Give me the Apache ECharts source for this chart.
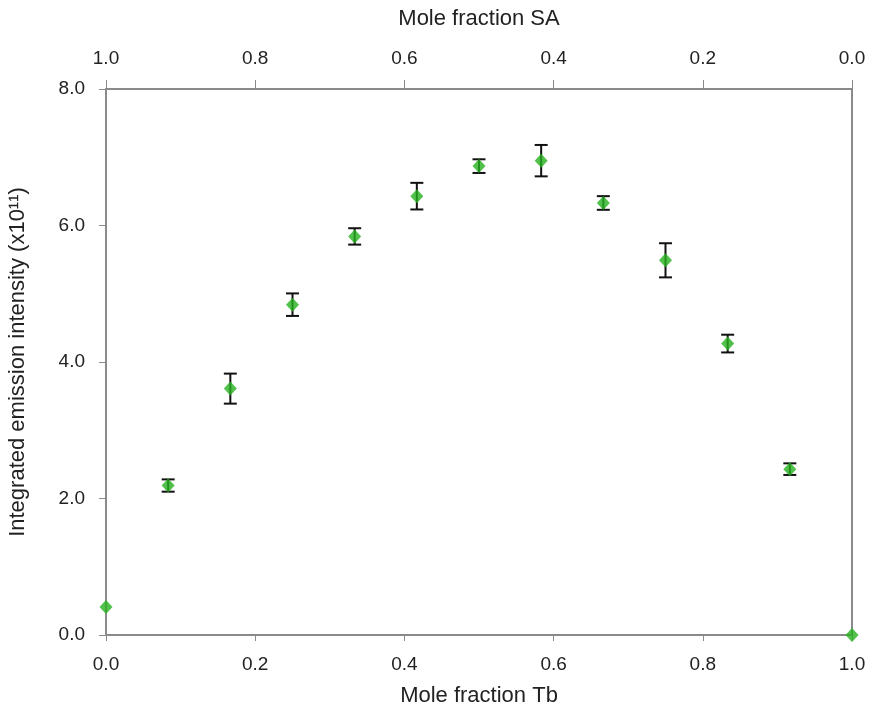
<!DOCTYPE html>
<html lang="en">

<head>
  <meta charset="UTF-8">
  <title>Emission intensity vs mole fraction</title>
  <script src="https://cdn.jsdelivr.net/npm/echarts@6/dist/echarts.min.js"></script>
</head>

<body style="margin:0;background:#fff;">
  <div id="chart" style="width: 870px; height: 711px;"></div>
  <script>
    // mole fraction Tb (steps of 1/12)
    const moleTb = [0, 1 / 12, 2 / 12, 3 / 12, 4 / 12, 5 / 12, 6 / 12, 7 / 12, 8 / 12, 9 / 12, 10 / 12, 11 / 12, 1]
    // integrated emission intensity (x10^11)
    const intensity = [0.41, 2.19, 3.61, 4.84, 5.84, 6.43, 6.87, 6.95, 6.33, 5.49, 4.27, 2.43, 0.0]
    // +/- error
    const errors = [0, 0.09, 0.22, 0.165, 0.12, 0.195, 0.1, 0.23, 0.1, 0.25, 0.13, 0.085, 0]

    const points = moleTb.map((x, i) => [x, intensity[i]])
    const bars = moleTb.map((x, i) => [x, intensity[i] - errors[i], intensity[i] + errors[i]])
      .filter((d, i) => errors[i] > 0)

    const axisGrey = '#8a8a8a'
    const textCol = '#222'
    const font = 'Liberation Sans'
    const fmt = v => v.toFixed(1)

    let chart = echarts.init(document.getElementById('chart'))

    let option = {
      animation: false,
      // fixed plot box, don't let v6 shrink it to fit the names
      grid: { left: 106, right: 18, top: 89, bottom: 76, outerBoundsMode: 'none' },
      xAxis: [
        {
          type: 'value', min: 0, max: 1, interval: 0.2, position: 'bottom',
          name: 'Mole fraction Tb', nameLocation: 'middle', nameGap: 50,
          nameTextStyle: { fontSize: 22, color: textCol, fontFamily: font },
          axisLine: { show: true, onZero: false, lineStyle: { color: axisGrey, width: 2 } },
          axisTick: { show: true, inside: false, length: 6, lineStyle: { color: axisGrey } },
          axisLabel: { fontSize: 19, color: textCol, margin: 20, fontFamily: font, formatter: fmt },
          splitLine: { show: false }
        },
        {
          type: 'value', min: 0, max: 1, interval: 0.2, position: 'top', inverse: true,
          name: 'Mole fraction SA', nameLocation: 'middle', nameGap: 59,
          nameTextStyle: { fontSize: 22, color: textCol, fontFamily: font },
          axisLine: { show: true, onZero: false, lineStyle: { color: axisGrey, width: 2 } },
          axisTick: { show: true, inside: false, length: 9, lineStyle: { color: axisGrey } },
          axisLabel: { fontSize: 19, color: textCol, margin: 21, fontFamily: font, formatter: fmt },
          splitLine: { show: false }
        }
      ],
      yAxis: [
        {
          type: 'value', min: 0, max: 8, interval: 2,
          name: 'Integrated emission intensity (x10¹¹)', nameLocation: 'middle', nameGap: 77,
          nameTextStyle: { fontSize: 22, color: textCol, fontFamily: font },
          axisLine: { show: true, onZero: false, lineStyle: { color: axisGrey, width: 2 } },
          axisTick: { show: true, inside: false, length: 7, lineStyle: { color: axisGrey } },
          axisLabel: { fontSize: 19, color: textCol, margin: 21, fontFamily: font, formatter: fmt },
          splitLine: { show: false }
        },
        {
          type: 'value', min: 0, max: 8, interval: 2, position: 'right',
          axisLine: { show: true, onZero: false, lineStyle: { color: axisGrey, width: 2 } },
          axisTick: { show: false },
          axisLabel: { show: false },
          splitLine: { show: false }
        }
      ],
      series: [
        {
          type: 'custom',
          xAxisIndex: 0,
          yAxisIndex: 0,
          data: bars,
          encode: { x: 0, y: [1, 2] },
          clip: false,
          renderItem: function (params, api) {
            const lo = api.coord([api.value(0), api.value(1)])
            const hi = api.coord([api.value(0), api.value(2)])
            const half = 6.5
            const style = { stroke: '#111', lineWidth: 2 }
            return {
              type: 'group',
              children: [
                { type: 'line', shape: { x1: lo[0], y1: lo[1], x2: hi[0], y2: hi[1] }, style: style },
                { type: 'line', shape: { x1: lo[0] - half, y1: lo[1], x2: lo[0] + half, y2: lo[1] }, style: style },
                { type: 'line', shape: { x1: hi[0] - half, y1: hi[1], x2: hi[0] + half, y2: hi[1] }, style: style }
              ]
            }
          }
        },
        {
          type: 'scatter',
          xAxisIndex: 0,
          yAxisIndex: 0,
          data: points,
          symbol: 'diamond',
          symbolSize: [13, 14],
          clip: false,
          itemStyle: { color: '#26b21e' },
          z: 5
        }
      ]
    }

    chart.setOption(option)
  </script>
</body>

</html>
